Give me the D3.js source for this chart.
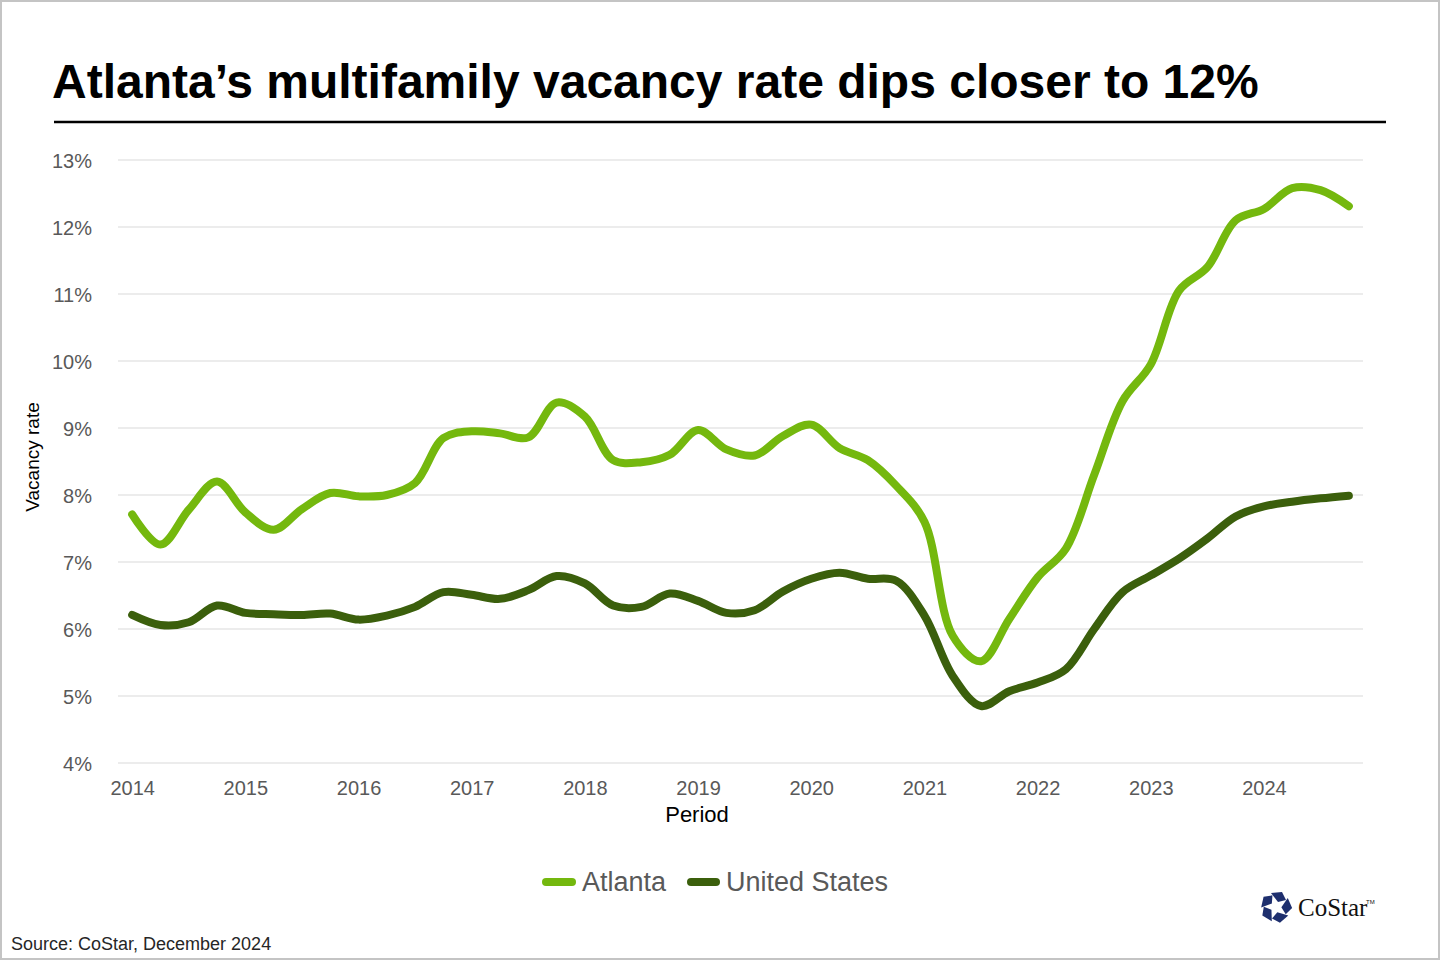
<!DOCTYPE html>
<html>
<head>
<meta charset="utf-8">
<script src="https://cdn.jsdelivr.net/npm/d3@7"></script>
<style>
  body { margin: 0; background: #fff; }
  svg { display: block; font-family: "Liberation Sans", Arial, sans-serif; }
</style>
</head>
<body>
<svg id="chart" width="1440" height="960"></svg>
<script>
// data, quarterly 2014 Q1 .. 2024 Q4
const years = [2014, 2015, 2016, 2017, 2018, 2019, 2020, 2021, 2022, 2023, 2024];
const quarters = ["Q1", "Q2", "Q3", "Q4"];
const periods = years.flatMap(y => quarters.map(q => y + " " + q));

const atlanta = [
  7.71, 7.26, 7.78, 8.20, 7.74, 7.48, 7.79, 8.03, 7.98, 8.00, 8.18,
  8.85, 8.95, 8.92, 8.86, 9.38, 9.17, 8.52, 8.49, 8.60, 8.97, 8.68,
  8.59, 8.88, 9.05, 8.70, 8.52, 8.14, 7.60, 5.90, 5.52, 6.15, 6.77,
  7.20, 8.30, 9.40, 9.95, 11.05, 11.40, 12.10, 12.27, 12.58, 12.55, 12.31
];
const unitedStates = [
  6.21, 6.06, 6.10, 6.35, 6.24, 6.22, 6.21, 6.23, 6.14, 6.20, 6.33,
  6.55, 6.51, 6.45, 6.58, 6.79, 6.68, 6.35, 6.33, 6.53, 6.42, 6.24,
  6.28, 6.56, 6.75, 6.84, 6.75, 6.72, 6.20, 5.30, 4.85, 5.07, 5.20,
  5.40, 6.00, 6.55, 6.80, 7.05, 7.35, 7.68, 7.83, 7.90, 7.95, 7.99
];
const yTicks = [4, 5, 6, 7, 8, 9, 10, 11, 12, 13];

const series = [
  { name: "Atlanta", values: atlanta, color: "#74b80e" },
  { name: "United States", values: unitedStates, color: "#3b5f0c" }
];

const svg = d3.select("#chart");

// frame
svg.append("rect")
  .attr("x", 1).attr("y", 1)
  .attr("width", 1438).attr("height", 958)
  .attr("fill", "#fff")
  .attr("stroke", "#c4c4c4")
  .attr("stroke-width", 2);

// title
svg.append("text")
  .attr("x", 52).attr("y", 98)
  .attr("font-size", 48)
  .attr("font-weight", "bold")
  .attr("fill", "#000")
  .text("Atlanta\u2019s multifamily vacancy rate dips closer to 12%");

svg.append("line")
  .attr("x1", 54).attr("x2", 1386)
  .attr("y1", 122).attr("y2", 122)
  .attr("stroke", "#000")
  .attr("stroke-width", 2.5);

// scales
const x = d3.scaleLinear()
  .domain([-0.5, periods.length - 0.5])
  .range([118, 1363]);

const y = d3.scaleLinear()
  .domain([4, 13])
  .range([763, 160]);

// gridlines
svg.append("g")
  .selectAll("line")
  .data(yTicks)
  .join("line")
  .attr("x1", 118).attr("x2", 1363)
  .attr("y1", d => y(d)).attr("y2", d => y(d))
  .attr("stroke", "#d9d9d9")
  .attr("stroke-width", 1);

// y axis
const yAxis = d3.axisLeft(y)
  .tickValues(yTicks)
  .tickFormat(d => d + "%")
  .tickSize(0)
  .tickPadding(0);

const yAxisGroup = svg.append("g")
  .attr("transform", "translate(92,0)")
  .call(yAxis);
yAxisGroup.select(".domain").remove();
yAxisGroup.selectAll("text")
  .attr("font-size", 20)
  .attr("font-family", "Liberation Sans, Arial, sans-serif")
  .attr("fill", "#595959")
  .attr("dy", "0.36em");

// x axis, a label at the first quarter of every year
const xAxis = d3.axisBottom(x)
  .tickValues(years.map((yr, i) => i * 4))
  .tickFormat(d => years[d / 4])
  .tickSize(0)
  .tickPadding(0);

const xAxisGroup = svg.append("g")
  .attr("transform", "translate(0,780)")
  .call(xAxis);
xAxisGroup.select(".domain").remove();
xAxisGroup.selectAll("text")
  .attr("font-size", 20)
  .attr("font-family", "Liberation Sans, Arial, sans-serif")
  .attr("fill", "#595959")
  .attr("dy", "0.74em");

// axis titles
svg.append("text")
  .attr("x", 697).attr("y", 822)
  .attr("text-anchor", "middle")
  .attr("font-size", 22)
  .attr("fill", "#000")
  .text("Period");

svg.append("text")
  .attr("transform", "translate(39,457)rotate(-90)")
  .attr("text-anchor", "middle")
  .attr("font-size", 19)
  .attr("fill", "#000")
  .text("Vacancy rate");

// lines
const line = d3.line()
  .x((d, i) => x(i))
  .y(d => y(d))
  .curve(d3.curveCatmullRom.alpha(0.5));

svg.append("g")
  .selectAll("path")
  .data(series.slice().reverse())
  .join("path")
  .attr("fill", "none")
  .attr("stroke", d => d.color)
  .attr("stroke-width", 8)
  .attr("stroke-linecap", "round")
  .attr("stroke-linejoin", "round")
  .attr("d", d => line(d.values));

// legend
const legendItems = [
  { s: series[0], x1: 546, x2: 572, tx: 582 },
  { s: series[1], x1: 691, x2: 716, tx: 726 }
];
const legend = svg.append("g");
legend.selectAll("line")
  .data(legendItems)
  .join("line")
  .attr("x1", d => d.x1).attr("x2", d => d.x2)
  .attr("y1", 882).attr("y2", 882)
  .attr("stroke", d => d.s.color)
  .attr("stroke-width", 8)
  .attr("stroke-linecap", "round");
legend.selectAll("text")
  .data(legendItems)
  .join("text")
  .attr("x", d => d.tx).attr("y", 891)
  .attr("font-size", 27)
  .attr("fill", "#595959")
  .text(d => d.s.name);

// source
svg.append("text")
  .attr("x", 11).attr("y", 950)
  .attr("font-size", 18)
  .attr("fill", "#262626")
  .text("Source: CoStar, December 2024");

// CoStar logo
const logo = svg.append("g").attr("transform", "translate(1276,907)");
d3.range(5).forEach(k => {
  logo.append("path")
    .attr("d", "M-5,-14 L6,-15 L10,-7 L2,-5 Z")
    .attr("fill", "#1e2f6e")
    .attr("transform", `rotate(${k * 72})`);
});
svg.append("text")
  .attr("x", 1298).attr("y", 916)
  .attr("font-family", "Liberation Serif, Times New Roman, serif")
  .attr("font-size", 25)
  .attr("fill", "#111")
  .text("CoStar");
svg.append("text")
  .attr("x", 1366).attr("y", 904)
  .attr("font-size", 6)
  .attr("fill", "#111")
  .text("TM");
</script>
</body>
</html>
